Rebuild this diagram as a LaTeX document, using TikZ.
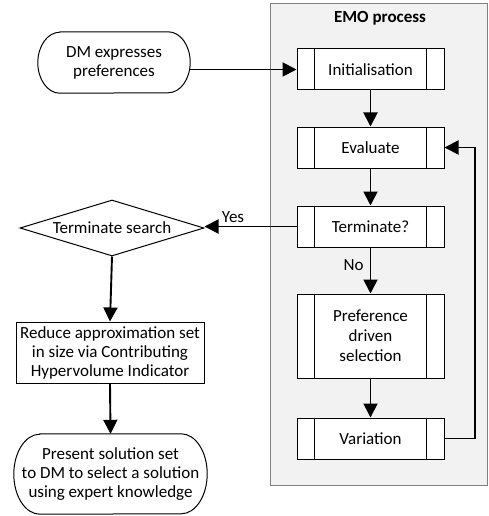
\documentclass[tikz,border=0pt]{standalone}
\usepackage{fontspec}
\setmainfont{Carlito}
\usetikzlibrary{arrows.meta,shapes.geometric}
\definecolor{bggray}{HTML}{F2F2F2}
\definecolor{bordergray}{HTML}{808080}
\tikzset{
  basefont/.style={font=\fontsize{17}{19}\selectfont},
  proc/.style={draw=black, line width=1pt, fill=white, minimum width=147pt, minimum height=41pt, inner sep=0pt, align=center, font=\fontsize{17}{20}\selectfont},
  plainbox/.style={draw=black, line width=1pt, fill=white, inner sep=0pt, align=center, basefont},
  term/.style={inner sep=0pt, align=center, basefont},
  decision/.style={diamond, draw=black, line width=1pt, fill=white, inner sep=0pt, aspect=3.3, minimum width=184pt, minimum height=56pt, basefont},
  arr/.style={line width=1.9pt, -{Triangle[length=14pt,width=14pt]}},
  lbl/.style={basefont, inner sep=0pt},
  outline/.style={draw=black, line width=1pt, fill=white}
}
\newcommand{\sidebars}[1]{%
  \draw[line width=1pt] ([xshift=18pt]#1.north west) -- ([xshift=18pt]#1.south west);
  \draw[line width=1pt] ([xshift=-18pt]#1.north east) -- ([xshift=-18pt]#1.south east);}
\newcommand{\termshape}[3]{% node, x radius, y radius
  \path[outline] ([xshift=#2]#1.north west) -- ([xshift=-#2]#1.north east)
    arc[start angle=90,end angle=-90,x radius=#2,y radius=#3]
    -- ([xshift=#2]#1.south west)
    arc[start angle=270,end angle=90,x radius=#2,y radius=#3] -- cycle;}
\begin{document}
\begin{tikzpicture}[x=1pt,y=-1pt]
\useasboundingbox (0,0) rectangle (488,516);
\path[fill=bggray, draw=bordergray, line width=1pt] (270.5,3.5) rectangle (487.5,485.5);
\node[lbl, font=\fontsize{17}{19}\selectfont\bfseries] (emo) at (380,18) {EMO process};

\node[proc] (init) at (370.5,69.5) {Initialisation};
\node[proc] (eval) at (370.5,147.5) {Evaluate};
\node[proc] (termq) at (370.5,226.5) {Terminate?};
\node[proc, minimum height=84pt, text width=100pt] (pref) at (370.5,336) {Preference\\driven\\selection};
\node[proc] (var) at (370.5,438.5) {Variation};
\sidebars{init}\sidebars{eval}\sidebars{termq}\sidebars{pref}\sidebars{var}

\node[term, minimum width=152pt, minimum height=61pt] (dm) at (114,62.5) {};
\termshape{dm}{22pt}{30.5pt}
\node[term] at (dm.center) {DM expresses\\preferences};

\node[decision] (ts) at (112,228) {Terminate search};

\node[plainbox, minimum width=188pt, minimum height=61pt] (red) at (110,352.5) {Reduce approximation set\\in size via Contributing\\Hypervolume Indicator};

\node[term, minimum width=193pt, minimum height=80pt] (pres) at (110.5,474) {};
\termshape{pres}{26pt}{40pt}
\node[term] at (pres.center) {Present solution set\\to DM to select a solution\\using expert knowledge};

\coordinate (fb) at (475,300);

\draw[arr] (init.west -| dm.east) -- (init.west);
\draw[arr] (init) -- (eval);
\draw[arr] (eval) -- (termq);
\draw[arr] (termq) -- node[lbl, pos=0.38, anchor=east, xshift=-6pt] {No} (pref);
\draw[arr] (pref) -- (var);
\draw[arr] (var.east) -- (var.east -| fb) -- (eval.east -| fb) -- (eval.east);
\draw[arr] (termq.west) -- node[lbl, pos=0.69, anchor=south, yshift=3pt] {Yes} (termq.west -| ts.east);
\draw[arr] (ts.south) -- (red.north);
\draw[arr] (red.south) -- (pres.north);
\end{tikzpicture}
\end{document}
